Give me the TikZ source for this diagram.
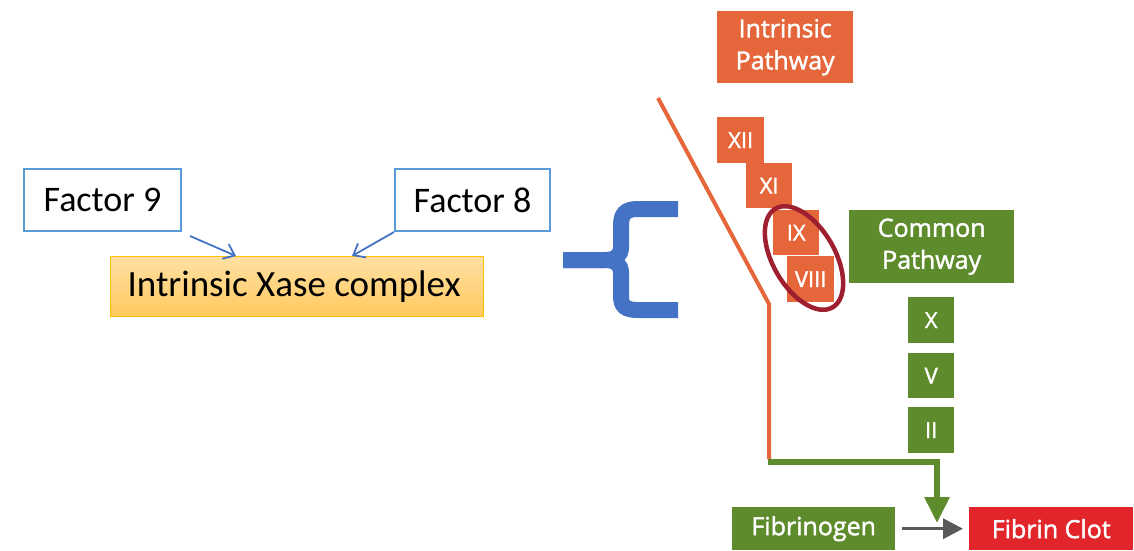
\documentclass[tikz,border=0pt]{standalone}
\usepackage{fontspec}
\setmainfont{Carlito}
\newfontfamily\labelfont[FakeBold=1.6]{Open Sans}
\usetikzlibrary{arrows.meta,shapes.geometric}

\definecolor{boxblue}{HTML}{5B9BD5}
\definecolor{arrowblue}{HTML}{4472C4}
\definecolor{braceblue}{HTML}{4472C4}
\definecolor{xaseedge}{HTML}{FFC000}
\definecolor{xasetop}{HTML}{FFE0A3}
\definecolor{xasebot}{HTML}{FFC95E}
\definecolor{introrange}{HTML}{E5663A}
\definecolor{commongreen}{HTML}{5E8B2B}
\definecolor{clotred}{HTML}{E2252B}
\definecolor{ringred}{HTML}{9E1F2F}
\definecolor{darkgrey}{HTML}{595959}

\begin{document}
\begin{tikzpicture}[x=1pt, y=-1pt,
  factorbox/.style={draw=boxblue, line width=2pt, fill=white, inner sep=0pt,
    anchor=north west, minimum width=157pt, minimum height=62pt,
    font=\fontsize{36}{40}\selectfont},
  xasebox/.style={draw=xaseedge, line width=1.2pt, top color=xasetop,
    bottom color=xasebot, inner sep=0pt, anchor=north west,
    minimum width=373pt, minimum height=60pt,
    font=\fontsize{37}{40}\selectfont},
  pathbox/.style={inner sep=0pt, anchor=north west, text=white, align=center,
    font=\labelfont\fontsize{25}{32}\selectfont},
  romanbox/.style={inner sep=0pt, anchor=north west, text=white,
    font=\labelfont\fontsize{22}{24}\selectfont},
  blueconn/.style={draw=arrowblue, line width=1.8pt,
    -{Straight Barb[length=10pt, width=16pt, line width=1.8pt]}},
]
\useasboundingbox (0,0) rectangle (1134,550);

% ---- left: the intrinsic tenase complex ----
\node[factorbox] (f9) at (23,168) {Factor 9};
\node[factorbox, minimum width=155pt] (f8) at (394,168) {Factor 8};
\node[xasebox] (xase) at (110,256) {\hspace*{-6pt}Intrinsic Xase complex};

\draw[blueconn] ([shift={(8pt,-4pt)}]f9.south east) -- ([xshift=126pt]xase.north west);
\draw[blueconn] (f8.south west) -- ([xshift=242pt]xase.north west);

% ---- curly brace ----
\draw[braceblue, line width=16pt]
  (678,209) -- (638,209) .. controls (625,209) and (621,214) .. (621,226)
  -- (621,247) .. controls (621,256) and (615,260) .. (605,260) -- (563,260);
\draw[braceblue, line width=16pt]
  (563,260) -- (605,260) .. controls (615,260) and (621,264) .. (621,273)
  -- (621,296) .. controls (621,306) and (625,310) .. (638,310) -- (678,310);

% ---- intrinsic pathway cascade ----
\node[pathbox, fill=introrange, minimum width=136pt, minimum height=72pt]
  (intr) at (717,11) {Intrinsic\\Pathway};
\node[romanbox, fill=introrange, minimum width=47pt, minimum height=46pt] (f12) at (717,117) {XII};
\node[romanbox, fill=introrange, minimum width=46pt, minimum height=45pt] (f11) at (746,163) {XI};
\node[romanbox, fill=introrange, minimum width=46pt, minimum height=45pt] (f9r) at (773,210) {IX};
\node[romanbox, fill=introrange, minimum width=47pt, minimum height=46pt] (f8r) at (787,256) {VIII};

\node[draw=ringred, line width=4.5pt, ellipse, minimum width=114pt,
  minimum height=62pt, rotate=120, inner sep=0pt] (ring) at (804,258) {};

% ---- common pathway ----
\node[pathbox, fill=commongreen, minimum width=165pt, minimum height=73pt]
  (common) at (849,210) {Common\\Pathway};
\node[romanbox, fill=commongreen, minimum width=46pt, minimum height=46pt] (f10) at (908,297) {X};
\node[romanbox, fill=commongreen, minimum width=46pt, minimum height=45pt] (f5) at (908,353) {V};
\node[romanbox, fill=commongreen, minimum width=46pt, minimum height=46pt] (f2) at (908,407) {II};

\node[pathbox, fill=commongreen, minimum width=163pt, minimum height=43pt]
  (fgen) at (732,507) {Fibrinogen};
\node[pathbox, fill=clotred, minimum width=164pt, minimum height=43pt]
  (clot) at (969,507) {Fibrin Clot};

% ---- pathway lines ----
\coordinate (lineTop) at (658,98);
\coordinate (lineBend) at (769,304);
\coordinate (lineFoot) at (769,462);
\coordinate (joinCorner) at (937,462);
\coordinate (joinTip) at (937,523);

\draw[introrange, line width=4pt, line join=miter]
  (lineTop) -- (lineBend) -- ([yshift=3pt]lineFoot);
\draw[commongreen, line width=6pt, line join=miter,
  -{Triangle[length=26pt, width=24pt]}]
  ([xshift=-1pt]lineFoot) -- (joinCorner) -- (joinTip);

\draw[darkgrey, line width=3.5pt, -{Triangle[length=20pt, width=20pt]},
  shorten <=7pt, shorten >=6pt] (fgen.east) -- (clot.west);
\end{tikzpicture}
\end{document}
